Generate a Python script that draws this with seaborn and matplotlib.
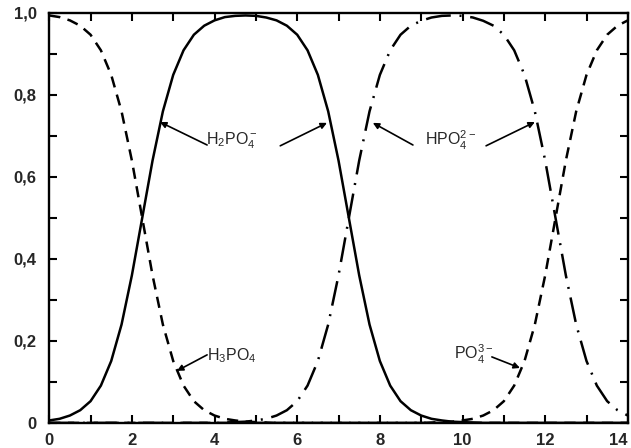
import numpy as np
import pandas as pd
import seaborn as sns
import matplotlib.pyplot as plt
from matplotlib.ticker import MultipleLocator, FixedLocator, FuncFormatter

## pH grid (0 to 14, step 0.25)
ph = np.arange(0, 14.01, 0.25)

## fractions
h3po4 = [0.994, 0.990, 0.982, 0.969, 0.947, 0.909, 0.849, 0.760, 0.640, 0.500,
         0.360, 0.240, 0.151, 0.091, 0.053, 0.031, 0.018, 0.010, 0.006, 0.003,
         0.002, 0.001] + [0.0] * 35

h2po4 = [0.006, 0.010, 0.018, 0.031, 0.053, 0.091, 0.151, 0.240, 0.360, 0.500,
         0.640, 0.760, 0.849, 0.909, 0.947, 0.969, 0.982, 0.990, 0.993, 0.994,
         0.993, 0.989, 0.982, 0.969, 0.947, 0.909, 0.849, 0.760, 0.640, 0.500,
         0.360, 0.240, 0.151, 0.091, 0.053, 0.031, 0.018, 0.010, 0.006, 0.003,
         0.002, 0.001] + [0.0] * 15

hpo4 = [0.0] * 17 + [0.001, 0.002, 0.003,
        0.006, 0.010, 0.018, 0.031, 0.053, 0.091, 0.151, 0.240, 0.360, 0.500,
        0.640, 0.760, 0.849, 0.909, 0.947, 0.969, 0.981, 0.989, 0.993, 0.994,
        0.993, 0.989, 0.981, 0.969, 0.947, 0.909, 0.849, 0.760, 0.640, 0.500,
        0.360, 0.240, 0.151, 0.091, 0.053, 0.031, 0.018]

po4 = [0.0] * 37 + [0.001, 0.002, 0.003,
       0.006, 0.010, 0.018, 0.031, 0.053, 0.091, 0.151, 0.240, 0.360, 0.500,
       0.640, 0.760, 0.849, 0.909, 0.947, 0.969, 0.982]

df = pd.DataFrame({"pH": ph, "H3PO4": h3po4, "H2PO4": h2po4, "HPO4": hpo4, "PO4": po4})

sns.set_style("ticks")
plt.rcParams["font.family"] = ["Liberation Sans", "DejaVu Sans"]
plt.rcParams["mathtext.fontset"] = "custom"
plt.rcParams["mathtext.rm"] = "Liberation Sans"

fig = plt.figure(figsize=(6.31, 4.48), dpi=100)
ax = fig.add_axes([0.078, 0.056, 0.917, 0.915])

lw = 1.8
sns.lineplot(data=df, x="pH", y="H3PO4", ax=ax, color="black", lw=lw, linestyle=(0, (4.5, 3)))
sns.lineplot(data=df, x="pH", y="H2PO4", ax=ax, color="black", lw=lw, linestyle="-")
sns.lineplot(data=df, x="pH", y="HPO4", ax=ax, color="black", lw=lw, linestyle=(0, (10, 3.5, 0.8, 3.5)))
sns.lineplot(data=df, x="pH", y="PO4", ax=ax, color="black", lw=lw, linestyle=(0, (4.5, 3)))

ax.set_xlim(0, 14)
ax.set_ylim(0, 1.0)
ax.set_xlabel("")
ax.set_ylabel("")

ax.xaxis.set_major_locator(FixedLocator([0, 2, 4, 6, 8, 10, 12, 14]))
ax.xaxis.set_minor_locator(MultipleLocator(1))
ax.yaxis.set_major_locator(FixedLocator([0, 0.2, 0.4, 0.6, 0.8, 1.0]))
ax.yaxis.set_minor_locator(MultipleLocator(0.1))
ax.yaxis.set_major_formatter(FuncFormatter(lambda v, p: "0" if v == 0 else f"{v:.1f}".replace(".", ",")))

ax.tick_params(which="both", direction="in", top=True, right=True, length=6, width=1.5, color="black")
ax.tick_params(axis="x", which="major", pad=7, labelsize=12)
ax.tick_params(axis="y", which="major", pad=9, labelsize=12)
for lab in ax.get_xticklabels() + ax.get_yticklabels():
    lab.set_fontweight("bold")
ax.get_xticklabels()[-1].set_ha("right")
for sp in ax.spines.values():
    sp.set_linewidth(1.7)
    sp.set_color("black")

## species labels with arrows
txt = dict(fontsize=11.5, ha="center", va="center")
ax.text(4.42, 0.688, r"$\mathregular{H_2PO_4^-}$", **txt)
ax.text(9.70, 0.688, r"$\mathregular{HPO_4^{2-}}$", **txt)
ax.text(4.42, 0.163, r"$\mathregular{H_3PO_4}$", **txt)
ax.text(10.28, 0.168, r"$\mathregular{PO_4^{3-}}$", **txt)

arrows = [
    ((3.82, 0.678), (2.68, 0.734)),
    ((5.59, 0.676), (6.72, 0.732)),
    ((8.80, 0.678), (7.83, 0.732)),
    ((10.57, 0.676), (11.75, 0.734)),
    ((3.82, 0.166), (3.09, 0.127)),
    ((10.71, 0.161), (11.39, 0.134)),
]
for start, tip in arrows:
    ax.annotate("", xy=tip, xytext=start,
                arrowprops=dict(arrowstyle="-|>", color="black", lw=1.2,
                                mutation_scale=9, shrinkA=0, shrinkB=0))

fig.savefig("out.png", dpi=100)
